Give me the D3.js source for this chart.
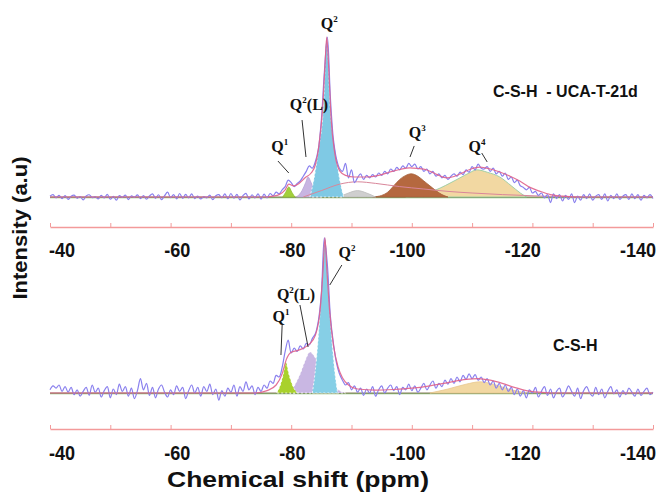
<!DOCTYPE html>
<html>
<head>
<meta charset="utf-8">
<script src="https://cdn.jsdelivr.net/npm/d3@7"></script>
<style>
  body { margin: 0; background: #fff; }
  svg { display: block; }
</style>
</head>
<body>
<svg id="chart" width="668" height="495"></svg>
<script>
// ---- data ----
const axisTicks = d3.range(-40, -141, -10);
const tickLabels = [-40, -60, -80, -100, -120, -140];

// experimental spectra, evenly spaced from -40 to -140 ppm (0.5 ppm steps)
const topExp = [
  0.5, 1.5, -0.5, 1.0, -1.0, 0.8, -1.5, 0.5, 1.2, -0.8,
  0.3, -1.8, 0.6, 1.4, -0.4, 0.2, -1.2, 1.0, -0.6, 1.6,
  -1.4, 0.4, -2.0, 0.9, -0.3, 1.2, -1.6, 0.7, -0.2, 1.3,
  -1.0, 0.8, -1.4, 0.6, 2.0, -0.8, 1.4, -1.6, 0.8, 3.0,
  -0.4, 1.5, -1.2, 2.2, -0.8, 1.6, -0.6, 2.0, -1.0, 0.5,
  -1.2, 0.2, -0.6, 1.2, -1.7, 0.8, 1.5, -0.5, 1.9, -1.1,
  2.2, -0.7, 1.6, -1.8, 0.9, 2.3, -1.2, 1.4, -0.6, 2.0,
  -1.3, 1.8, -0.5, 2.2, 0.8, 3.0, 2.0, 4.5, 6.5, 10.5,
  9.0, 6.5, 8.5, 10.0, 13.0, 16.0, 19.5, 18.0, 22.0, 30.0,
  48, 78, 100, 62, 36, 24, 18, 16, 21, 12,
  17, 9, 12, 14.5, 11, 13.5, 12, 14, 12.5, 15,
  13.5, 16, 14.5, 17.5, 16, 18.5, 17, 19.5, 18, 21,
  19, 20.5, 17.5, 19, 16, 17.5, 14.5, 16, 13, 14.5,
  12, 13.5, 11, 13, 14.5, 13, 15.5, 14, 17, 15.5,
  19, 17, 20.5, 18, 17.5, 19, 16, 18, 14.5, 16,
  13, 15, 11, 12.5, 9, 10.5, 7, 6, 4.5, 6,
  2.5, 3.5, 1, 2.5, -0.5, 1.5, -3.5, 2, -1, 1.5,
  -2.5, 1, -1.5, 2, -3.5, 0.5, -2, 1.5, -1, 2,
  -2, 0.5, 1.5, -1.5, 2, -2.5, 1, -1, 2, -1.5,
  0.5, 1.5, -1.5, 2, -1, 1.5, -2, 1, -0.5, 1.5,
  -1
];
const botExp = [
  2, 4.5, 3, 5, 1, 4, 0.5, 3.5, -1, 2,
  -2, 1, 3.5, -1.5, 5, 0.5, 3, -2.5, 1.5, 4,
  -3, 2.5, -1, 5.5, 1, 4, -2, 3, -3.5, 1.5,
  9, 2, 6, -1.5, 3.5, -3, 2.5, 5, 0.5, -2.5,
  2, -1, 4.5, 1, 3.5, -3.5, 1.5, 5, 0, 3.5,
  -2, 4, 1, 5.5, -1, 2.5, -4.5, 1.5, -2, 3,
  0.5, 5, -2, 4, 1, 7, 2, 4.5, -1, 3.5,
  1, 5, 3, 7.5, 6, 11, 10, 16, 26, 33,
  25, 28, 26, 29.5, 27.5, 31, 30, 34, 37, 45,
  62, 97, 80, 48, 31, 19, 12, 8, 5, 6.5,
  2, 4.5, 0.5, 3, -1.5, 2.5, 0, 4, -2, 2,
  4.5, 0, 3, 5, 1.5, 4, -1, 3.5, 2, 5.5,
  1.5, 4.5, 0.5, 3, 6, 2, 5, 7.5, 3, 6,
  4, 8, 5.5, 9, 6, 10, 7, 11, 8.5, 12,
  9, 11.5, 8, 10, 6.5, 9, 5, 7.5, 3, 6,
  2, 5, 1, 3.5, -1, 2.5, -2, 1.5, -3, 2,
  0, 3.5, -2.5, 1, 4, -1.5, 2.5, -3, 1, 3,
  -2.5, 0.5, 4.5, 1, -2, 3, -3.5, 1.5, 4, 0,
  -2, 3.5, -1, 2.5, -3, 1, 4, -0.5, 2, -2.5,
  1.5, -1, 3, 0.5, -2, 2.5, -1.5, 1, 3, -1,
  0.5
];

// fitted envelopes [ppm, intensity]
const topFit = [[-40,0],[-76,0],[-77,0.5],[-78,1.5],[-79,4.5],[-79.6,8],[-80.4,7],[-81.3,8.5],[-82.3,12],[-83.3,15],[-84,20],[-84.6,32],[-85.2,55],[-85.6,82],[-85.9,100],[-86.2,82],[-86.6,50],[-87.2,28],[-88.1,16],[-89,13.5],[-90.5,12.5],[-92.5,12.5],[-94.5,13.5],[-96.4,15.6],[-98,17.2],[-99.7,18.2],[-101,17.8],[-102.5,16.9],[-104.2,14],[-105.8,12],[-107,12.8],[-108,14.4],[-109.8,17.5],[-111.3,18.7],[-113,17.5],[-114.6,15.6],[-116.3,13],[-117.9,10],[-119.6,6],[-121.3,3.5],[-123,1.5],[-125,0.5],[-127,0],[-140,0]];
const botFit = [[-40,0],[-74,0],[-76,1.5],[-77.5,5],[-78.5,12],[-79.2,21],[-80,25.5],[-81,26.5],[-82,28],[-83,30.5],[-84,36],[-84.8,52],[-85.3,78],[-85.6,97],[-85.9,78],[-86.4,50],[-87,30],[-87.8,16],[-88.5,9.5],[-89.5,5],[-91,2.5],[-94,1.8],[-97,2.2],[-100,3],[-103,4.5],[-106,6.5],[-109,8.5],[-111,9],[-113,8],[-115,6],[-117,3.5],[-119,1.5],[-121,0.5],[-123,0],[-140,0]];
const topBroad = [[-82,0],[-85,4],[-88,8],[-91,9.5],[-94,8.5],[-98,6.5],[-102,5],[-106,3.5],[-110,2.5],[-115,1.5],[-122,0.5],[-128,0]];

// deconvoluted components
const topQ4 = [[-99,0],[-101,1],[-103,3],[-104.7,5.6],[-106.5,9],[-108,12],[-109.5,15],[-110.8,17],[-112.5,15.5],[-114.6,12.5],[-116.5,7],[-118,2.5],[-119,0]];
const topQ3 = [[-93.5,0],[-95,1],[-96,3],[-97,7],[-98,11],[-99,13.5],[-99.9,14.5],[-101,13],[-102,10],[-103,7],[-104,4],[-105,1.5],[-106,0]];
const topGray = [[-88,0],[-89.5,2.5],[-91,4],[-92.5,2.5],[-94,0]];
const topQ2L = [[-80.9,0],[-81.8,4],[-82.4,9],[-82.8,12.5],[-83.3,9],[-84,4],[-85,0]];
const topQ1 = [[-78.6,0],[-79.1,3],[-79.6,6.3],[-80.1,3],[-80.6,0]];
const topQ2 = [[-83.1,0],[-83.74,10.6],[-84.49,29],[-85.4,60],[-85.65,86],[-85.9,100],[-86.15,86],[-86.4,60],[-87.31,29],[-88.06,10.6],[-88.7,0]];

const botQ4 = [[-103,0],[-106,2.5],[-109,5.5],[-111.3,7],[-113.5,5.5],[-116,2.5],[-119,0]];
const botQ2L = [[-79.8,0],[-80.6,5],[-81.5,12],[-82.3,20],[-83.1,25.6],[-84,22],[-85,15],[-86,9],[-87,4.5],[-88,1.5],[-89,0]];
const botQ1 = [[-77.6,0],[-78.2,5],[-78.7,12],[-79.1,19.4],[-79.6,12],[-80.2,5],[-81,0]];
const botQ2 = [[-83.5,0],[-83.95,12.5],[-84.45,33],[-84.85,55],[-85.14,75],[-85.6,97],[-86.06,75],[-86.35,55],[-86.75,33],[-87.25,12.5],[-87.7,0]];

// peak labels: text, superscript, suffix, label position, leader line
const topNotes = [
  {t: "Q", s: "2", r: "", at: [-86.3, 105], line: null},
  {t: "Q", s: "2", r: "(L)", at: [-82.95, 54.4], line: [[-81.8, 48.1], [-82.45, 25]]},
  {t: "Q", s: "1", r: "", at: [-78.1, 28.1], line: [[-77.8, 22.5], [-79.6, 15]]},
  {t: "Q", s: "3", r: "", at: [-100.9, 36.9], line: [[-100.4, 31.9], [-99.7, 25]]},
  {t: "Q", s: "4", r: "", at: [-110.8, 28.1], line: [[-111.6, 27.5], [-112.5, 21.9]]}
];
const botNotes = [
  {t: "Q", s: "2", r: "", at: [-89.25, 84.4], line: [[-88.4, 80], [-86.4, 67.5]]},
  {t: "Q", s: "2", r: "(L)", at: [-80.8, 58.1], line: [[-81.45, 55], [-82.8, 28.75]]},
  {t: "Q", s: "1", r: "", at: [-78.3, 44.4], line: [[-78.5, 42.5], [-78.3, 23.75]]}
];

const panels = [
  {
    base: 197, axisY: 227, labelY: 257,
    title: "C-S-H  - UCA-T-21d", titleX: 493, titleY: 97,
    exp: topExp, fit: topFit, broad: topBroad, notes: topNotes,
    comps: [
      {d: topQ4, fill: "#f2d8a2", stroke: "#8cc9a0"},
      {d: topQ3, fill: "#b5683f", stroke: "#a5603a"},
      {d: topGray, fill: "#cfcfcf", stroke: "#bdbdbd"},
      {d: topQ2L, fill: "#c8b5e2", stroke: "#b9a4d8"},
      {d: topQ1, fill: "#a3cf3c", stroke: "#8fbf30"},
      {d: topQ2, fill: "#7fc9e4", stroke: "#ffffff"}
    ]
  },
  {
    base: 393, axisY: 429, labelY: 460,
    title: "C-S-H", titleX: 553, titleY: 351,
    exp: botExp, fit: botFit, broad: null, notes: botNotes,
    comps: [
      {d: botQ4, fill: "#f2d8a2", stroke: "#e8c890"},
      {d: botQ2L, fill: "#c9b7e3", stroke: "#ffffff"},
      {d: botQ1, fill: "#a9d12c", stroke: "#ffffff"},
      {d: botQ2, fill: "#86cfe6", stroke: "#ffffff"}
    ]
  }
];

// ---- drawing ----
const svg = d3.select("#chart");
const x = d3.scaleLinear().domain([-40, -140]).range([50, 653]);
const xLabel = d3.scaleLinear().domain([-40, -140]).range([62, 638]);

panels.forEach(p => {
  const y = d3.scaleLinear().domain([0, 100]).range([p.base, p.base - 160]);
  const g = svg.append("g");
  const n = p.exp.length;
  const expPts = p.exp.map((v, i) => [-40 - i * 100 / (n - 1), v]);

  const area = d3.area().x(d => x(d[0])).y0(y(0)).y1(d => y(d[1])).curve(d3.curveMonotoneX);
  const line = d3.line().x(d => x(d[0])).y(d => y(d[1]));

  // baseline
  g.append("line").attr("x1", x(-40)).attr("x2", x(-140))
    .attr("y1", y(0) + 0.5).attr("y2", y(0) + 0.5)
    .attr("stroke", "#8cc47a").attr("stroke-width", 1.4);
  g.append("line").attr("x1", x(-40)).attr("x2", x(-140))
    .attr("y1", y(0)).attr("y2", y(0))
    .attr("stroke", "#7a3b3b").attr("stroke-width", 0.8).attr("opacity", 0.7);

  // components
  p.comps.forEach(c => {
    g.append("path").datum(c.d).attr("d", area)
      .attr("fill", c.fill).attr("stroke", c.stroke)
      .attr("stroke-width", 0.8).attr("stroke-dasharray", c.stroke === "#ffffff" ? "2,2" : null);
  });

  if (p.broad) {
    g.append("path").datum(p.broad).attr("d", line.curve(d3.curveMonotoneX))
      .attr("fill", "none").attr("stroke", "#d9869a").attr("stroke-width", 1);
  }

  // experimental
  g.append("path").datum(expPts).attr("d", line.curve(d3.curveCatmullRom.alpha(0.5)))
    .attr("fill", "none").attr("stroke", "#8a80ee").attr("stroke-width", 1.2);

  // fitted sum
  g.append("path").datum(p.fit).attr("d", line.curve(d3.curveMonotoneX))
    .attr("fill", "none").attr("stroke", "#e0628a").attr("stroke-width", 1.2).attr("opacity", 0.9);

  // peak labels
  p.notes.forEach(nt => {
    if (nt.line) {
      g.append("line")
        .attr("x1", x(nt.line[0][0])).attr("y1", y(nt.line[0][1]))
        .attr("x2", x(nt.line[1][0])).attr("y2", y(nt.line[1][1]))
        .attr("stroke", "#333").attr("stroke-width", 1);
    }
    const t = g.append("text").attr("x", x(nt.at[0])).attr("y", y(nt.at[1]))
      .attr("text-anchor", "middle")
      .style("font-family", "'Liberation Serif', 'Times New Roman', serif")
      .style("font-weight", "bold").style("font-size", "16px").attr("fill", "#111");
    t.append("tspan").text(nt.t);
    t.append("tspan").attr("dy", -7).style("font-size", "9px").text(nt.s);
    if (nt.r) t.append("tspan").attr("dy", 7).text(nt.r);
  });

  // axis
  const ax = g.append("g").attr("transform", `translate(0,${p.axisY})`)
    .call(d3.axisTop(x).tickValues(axisTicks).tickSize(4).tickSizeOuter(0).tickFormat(""));
  ax.select(".domain").attr("stroke", "#f39a9a").attr("stroke-width", 1.6);
  ax.selectAll(".tick line").attr("stroke", "#f39a9a").attr("stroke-width", 1);

  // tick labels, a little condensed like the original
  g.selectAll("text.tl").data(tickLabels).join("text").attr("class", "tl")
    .attr("x", d => xLabel(d)).attr("y", p.labelY)
    .attr("text-anchor", "middle")
    .style("font-family", "'Liberation Sans', Arial, sans-serif")
    .style("font-weight", "bold").style("font-size", "21px").attr("fill", "#111")
    .text(d => d)
    .each(function() {
      const w = this.getComputedTextLength();
      d3.select(this).attr("textLength", w * 0.86).attr("lengthAdjust", "spacingAndGlyphs");
    });

  // panel title
  g.append("text").attr("x", p.titleX).attr("y", p.titleY)
    .style("font-family", "'Liberation Sans', Arial, sans-serif")
    .style("font-weight", "bold").style("font-size", "16px").style("white-space", "pre")
    .attr("fill", "#111").text(p.title);
});

// axis titles
svg.append("text").attr("x", 298).attr("y", 487).attr("text-anchor", "middle")
  .attr("textLength", 262).attr("lengthAdjust", "spacingAndGlyphs")
  .style("font-family", "'Liberation Sans', Arial, sans-serif")
  .style("font-weight", "bold").style("font-size", "22px").attr("fill", "#111")
  .text("Chemical shift (ppm)");

svg.append("text").attr("transform", "translate(27,228) rotate(-90)").attr("text-anchor", "middle")
  .attr("textLength", 143).attr("lengthAdjust", "spacingAndGlyphs")
  .style("font-family", "'Liberation Sans', Arial, sans-serif")
  .style("font-weight", "bold").style("font-size", "20px").attr("fill", "#111")
  .text("Intensity (a.u)");
</script>
</body>
</html>
